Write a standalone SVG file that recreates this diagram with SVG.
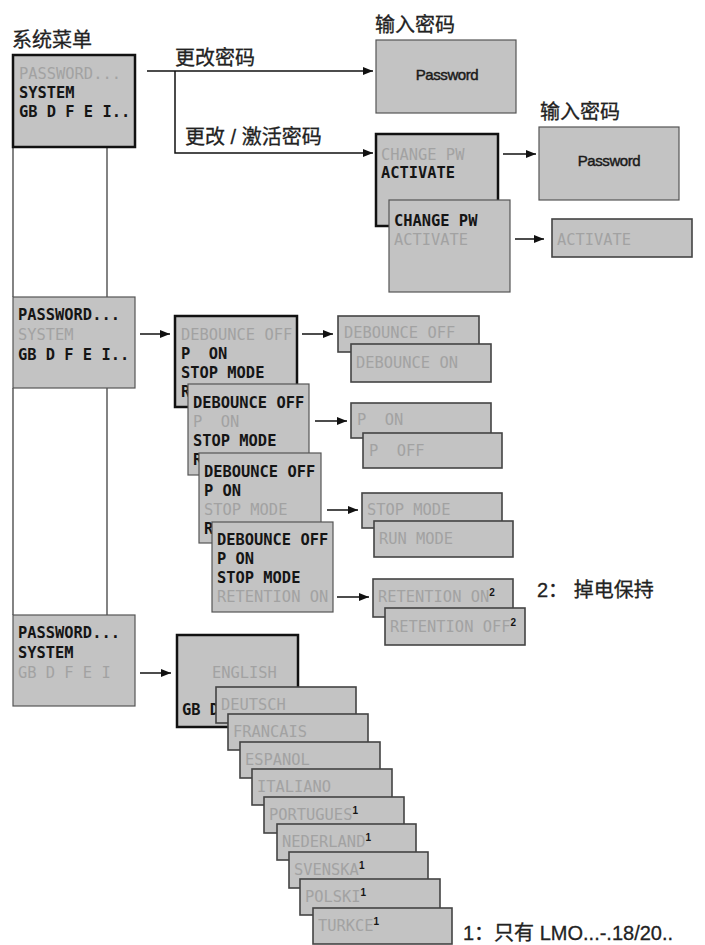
<svg xmlns="http://www.w3.org/2000/svg" width="705" height="945" viewBox="0 0 705 945">
<defs>
<marker id="ah" viewBox="0 0 10 8" refX="10" refY="4" markerWidth="10" markerHeight="8" markerUnits="userSpaceOnUse" orient="auto">
<path d="M0,0 L10,4 L0,8 Z" fill="#111"/>
</marker>
<style>
.scr{fill:#c3c3c3;stroke:#555;stroke-width:1.2}
.act{fill:#c3c3c3;stroke:#111;stroke-width:2.5}
.opt{fill:#c3c3c3;stroke:#444;stroke-width:1.6}
.lcd{font-family:"DejaVu Sans Mono","Liberation Mono",monospace;font-size:15.4px;font-weight:bold;fill:#151515;white-space:pre}
.dim{fill:#a2a2a2;font-weight:normal}
.sup{font-family:"Liberation Sans",Arial,sans-serif;font-size:10px;font-weight:bold;fill:#151515}
.pw{font-family:"Liberation Sans",Arial,sans-serif;font-size:15px;fill:#1a1a1a;stroke:#1a1a1a;stroke-width:0.45;text-anchor:middle;letter-spacing:-0.4px}
.cn{font-family:"Liberation Sans","Noto Sans CJK SC",sans-serif;font-size:20px;fill:#222;stroke:#222;stroke-width:0.3}
.conn{fill:none;stroke:#111;stroke-width:1.5}
.vl{fill:none;stroke:#333;stroke-width:1.2}
</style>
</defs>
<rect width="705" height="945" fill="#fff"/>

<g id="labels">
<text class="cn" x="12" y="47">系统菜单</text>
<text class="cn" x="175" y="65">更改密码</text>
<text class="cn" x="185" y="144">更改 / 激活密码</text>
<text class="cn" x="375" y="32">输入密码</text>
<text class="cn" x="540" y="119">输入密码</text>
<text class="cn" x="537" y="597">2： 掉电保持</text>
<text class="cn" x="463" y="940">1：只有 LMO...-.18/20..</text>
</g>

<g id="connectors">
<path class="vl" d="M13,147 V297 M107,147 V297 M13,388 V615 M107,388 V615"/>
<path class="conn" d="M147,71 H373" marker-end="url(#ah)"/>
<path class="conn" d="M175,71 V153 H373" marker-end="url(#ah)"/>
<path class="conn" d="M503,154 H536" marker-end="url(#ah)"/>
<path class="conn" d="M515,239 H544" marker-end="url(#ah)"/>
<path class="conn" d="M140,334 H170" marker-end="url(#ah)"/>
<path class="conn" d="M302,334 H333" marker-end="url(#ah)"/>
<path class="conn" d="M315,421 H347" marker-end="url(#ah)"/>
<path class="conn" d="M327,510 H358" marker-end="url(#ah)"/>
<path class="conn" d="M337,597 H369" marker-end="url(#ah)"/>
<path class="conn" d="M140,673 H171" marker-end="url(#ah)"/>
</g>

<g id="sys1">
<rect class="act" x="13" y="55" width="122" height="92"/>
<text class="lcd dim" x="19" y="79">PASSWORD...</text>
<text class="lcd" x="19" y="98">SYSTEM</text>
<text class="lcd" x="19" y="117">GB D F E I..</text>
</g>

<g id="pw1">
<rect class="scr" x="376" y="40" width="140" height="73"/>
<text class="pw" x="447" y="80">Password</text>
</g>

<g id="chg1">
<rect class="act" x="376" y="134" width="122" height="92"/>
<text class="lcd dim" x="381" y="160">CHANGE PW</text>
<text class="lcd" x="381" y="178">ACTIVATE</text>
</g>

<g id="pw2">
<rect class="scr" x="539" y="127" width="140" height="73"/>
<text class="pw" x="609" y="166">Password</text>
</g>

<g id="chg2">
<rect class="scr" x="389" y="200" width="121" height="92"/>
<text class="lcd" x="394" y="226">CHANGE PW</text>
<text class="lcd dim" x="394" y="245">ACTIVATE</text>
</g>

<g id="activate">
<rect class="opt" x="552" y="219" width="140" height="38"/>
<text class="lcd dim" x="557" y="245">ACTIVATE</text>
</g>

<g id="sys2">
<rect class="scr" x="13" y="297" width="122" height="91"/>
<text class="lcd" x="18" y="320">PASSWORD...</text>
<text class="lcd dim" x="18" y="340">SYSTEM</text>
<text class="lcd" x="18" y="360">GB D F E I..</text>
</g>

<g id="deb1">
<rect class="act" x="175" y="316" width="122" height="91"/>
<text class="lcd dim" x="181" y="340">DEBOUNCE OFF</text>
<text class="lcd" x="181" y="359">P  ON</text>
<text class="lcd" x="181" y="378">STOP MODE</text>
<text class="lcd" x="181" y="397">R</text>
</g>

<g id="debOff">
<rect class="opt" x="338" y="316" width="141" height="36"/>
<text class="lcd dim" x="344" y="338">DEBOUNCE OFF</text>
</g>
<g id="debOn">
<rect class="opt" x="351" y="344" width="140" height="38"/>
<text class="lcd dim" x="356" y="368">DEBOUNCE ON</text>
</g>

<g id="deb2">
<rect class="scr" x="188" y="384" width="121" height="91"/>
<text class="lcd" x="193" y="408">DEBOUNCE OFF</text>
<text class="lcd dim" x="193" y="427">P  ON</text>
<text class="lcd" x="193" y="446">STOP MODE</text>
<text class="lcd" x="193" y="465">R</text>
</g>

<g id="pOn">
<rect class="opt" x="351" y="403" width="140" height="35"/>
<text class="lcd dim" x="357" y="425">P  ON</text>
</g>
<g id="pOff">
<rect class="opt" x="363" y="433" width="139" height="35"/>
<text class="lcd dim" x="369" y="456">P  OFF</text>
</g>

<g id="deb3">
<rect class="scr" x="199" y="453" width="122" height="90"/>
<text class="lcd" x="204" y="477">DEBOUNCE OFF</text>
<text class="lcd" x="204" y="496">P ON</text>
<text class="lcd dim" x="204" y="515">STOP MODE</text>
<text class="lcd" x="204" y="534">R</text>
</g>

<g id="stopMode">
<rect class="opt" x="362" y="493" width="140" height="35"/>
<text class="lcd dim" x="367" y="515">STOP MODE</text>
</g>
<g id="runMode">
<rect class="opt" x="374" y="521" width="139" height="36"/>
<text class="lcd dim" x="379" y="544">RUN MODE</text>
</g>

<g id="deb4">
<rect class="scr" x="212" y="522" width="121" height="90"/>
<text class="lcd" x="217" y="545">DEBOUNCE OFF</text>
<text class="lcd" x="217" y="564">P ON</text>
<text class="lcd" x="217" y="583">STOP MODE</text>
<text class="lcd dim" x="217" y="602">RETENTION ON</text>
</g>

<g id="retOn">
<rect class="opt" x="373" y="579" width="140" height="38"/>
<text class="lcd dim" x="378" y="602">RETENTION ON<tspan class="sup" dy="-6">2</tspan></text>
</g>
<g id="retOff">
<rect class="opt" x="385" y="608" width="140" height="37"/>
<text class="lcd dim" x="390" y="632">RETENTION OFF<tspan class="sup" dy="-6">2</tspan></text>
</g>

<g id="sys3">
<rect class="scr" x="13" y="615" width="122" height="91"/>
<text class="lcd" x="18" y="638">PASSWORD...</text>
<text class="lcd" x="18" y="658">SYSTEM</text>
<text class="lcd dim" x="18" y="678">GB D F E I</text>
</g>

<g id="english">
<rect class="act" x="177" y="635" width="121" height="92"/>
<text class="lcd dim" x="212" y="678">ENGLISH</text>
<text class="lcd" x="182" y="715">GB D</text>
</g>

<g id="deutsch"><rect class="opt" x="216" y="687" width="140" height="36"/><text class="lcd dim" x="221" y="710">DEUTSCH</text></g>
<g id="francais"><rect class="opt" x="228" y="714" width="140" height="36"/><text class="lcd dim" x="233" y="737">FRANCAIS</text></g>
<g id="espanol"><rect class="opt" x="240" y="742" width="140" height="36"/><text class="lcd dim" x="245" y="765">ESPANOL</text></g>
<g id="italiano"><rect class="opt" x="252" y="769" width="140" height="36"/><text class="lcd dim" x="257" y="792">ITALIANO</text></g>
<g id="portugues"><rect class="opt" x="264" y="797" width="140" height="36"/><text class="lcd dim" x="269" y="820">PORTUGUES<tspan class="sup" dy="-6">1</tspan></text></g>
<g id="nederland"><rect class="opt" x="277" y="824" width="139" height="36"/><text class="lcd dim" x="282" y="847">NEDERLAND<tspan class="sup" dy="-6">1</tspan></text></g>
<g id="svenska"><rect class="opt" x="289" y="852" width="139" height="36"/><text class="lcd dim" x="294" y="875">SVENSKA<tspan class="sup" dy="-6">1</tspan></text></g>
<g id="polski"><rect class="opt" x="300" y="879" width="140" height="36"/><text class="lcd dim" x="305" y="902">POLSKI<tspan class="sup" dy="-6">1</tspan></text></g>
<g id="turkce"><rect class="opt" x="313" y="908" width="139" height="36"/><text class="lcd dim" x="318" y="931">TURKCE<tspan class="sup" dy="-6">1</tspan></text></g>
</svg>
